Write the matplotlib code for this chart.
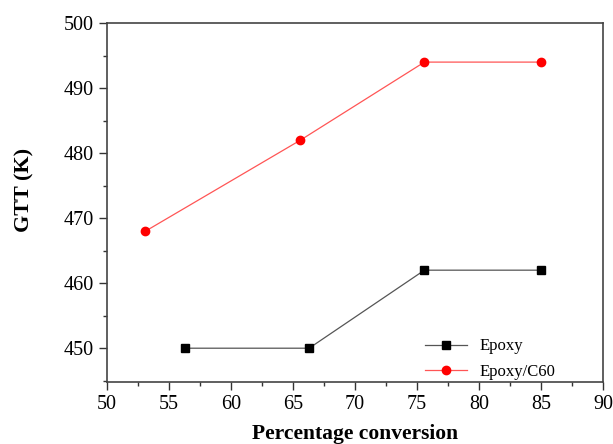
import matplotlib.pyplot as plt
from matplotlib.ticker import MultipleLocator

plt.rcParams['font.family'] = ['Liberation Serif', 'DejaVu Serif']

epoxy_x = [56.3, 66.3, 75.6, 85.0]
epoxy_y = [450, 450, 462, 462]
c60_x = [53.1, 65.6, 75.6, 85.0]
c60_y = [468, 482, 494, 494]

fig = plt.figure(figsize=(6.13, 4.44), dpi=100)
ax = fig.add_axes([0.1746, 0.1396, 0.809, 0.8084])

ax.plot(epoxy_x, epoxy_y, color='#555555', linewidth=0.9, marker='s', markersize=6,
        markerfacecolor='black', markeredgecolor='black', label='Epoxy')
ax.plot(c60_x, c60_y, color='#ff5555', linewidth=0.9, marker='o', markersize=6,
        markerfacecolor='red', markeredgecolor='red', label='Epoxy/C60')

ax.set_xlim(50, 90)
ax.set_ylim(444.8, 500)
ax.xaxis.set_major_locator(MultipleLocator(5))
ax.xaxis.set_minor_locator(MultipleLocator(2.5))
ax.yaxis.set_major_locator(MultipleLocator(10))
ax.yaxis.set_minor_locator(MultipleLocator(5))
ax.set_yticks([450, 460, 470, 480, 490, 500])
ax.tick_params(which='both', direction='out', top=False, right=False, labelsize=14.5, width=1, color='#333333')
ax.tick_params(which='major', length=6)
ax.tick_params(which='minor', length=3)
for s in ax.spines.values():
    s.set_linewidth(1.2)
    s.set_color('#444444')

ax.set_xlabel('Percentage conversion', fontsize=15.5, fontweight='bold', labelpad=7)
ax.set_ylabel('GTT (K)', fontsize=16, fontweight='bold')
ax.yaxis.set_label_coords(-0.147, 0.535)

ax.legend(loc='lower right', bbox_to_anchor=(0.935, -0.035), frameon=False, fontsize=12,
          handlelength=2.5, labelspacing=0.55)

fig.savefig('out.png', dpi=100)
